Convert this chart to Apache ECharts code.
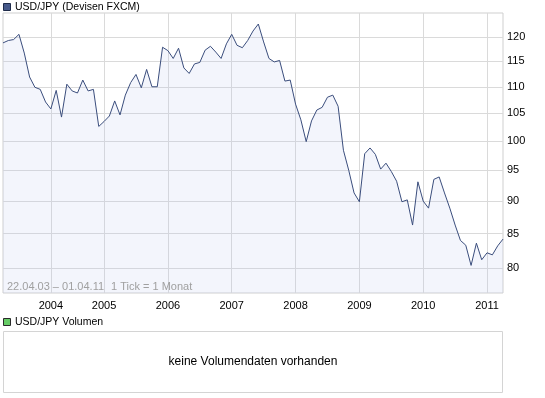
<!DOCTYPE html>
<html>
<head>
<meta charset="utf-8">
<script src="https://cdn.jsdelivr.net/npm/echarts@6/dist/echarts.min.js"></script>
<style>
  html, body { margin: 0; padding: 0; background: #fff; }
  #chart { width: 545px; height: 398px; }
</style>
</head>
<body>
<div id="chart"></div>
<script>
// monthly ticks, 22.04.03 - 01.04.11 (2004 only has 10 ticks in the source)
const months = [
  "2003-04", "2003-05", "2003-06", "2003-07", "2003-08", "2003-09", "2003-10", "2003-11", "2003-12",
  "2004-01", "2004-02", "2004-03", "2004-04", "2004-06", "2004-07", "2004-09", "2004-10", "2004-11", "2004-12",
  "2005-01", "2005-02", "2005-03", "2005-04", "2005-05", "2005-06", "2005-07", "2005-08", "2005-09", "2005-10", "2005-11", "2005-12",
  "2006-01", "2006-02", "2006-03", "2006-04", "2006-05", "2006-06", "2006-07", "2006-08", "2006-09", "2006-10", "2006-11", "2006-12",
  "2007-01", "2007-02", "2007-03", "2007-04", "2007-05", "2007-06", "2007-07", "2007-08", "2007-09", "2007-10", "2007-11", "2007-12",
  "2008-01", "2008-02", "2008-03", "2008-04", "2008-05", "2008-06", "2008-07", "2008-08", "2008-09", "2008-10", "2008-11", "2008-12",
  "2009-01", "2009-02", "2009-03", "2009-04", "2009-05", "2009-06", "2009-07", "2009-08", "2009-09", "2009-10", "2009-11", "2009-12",
  "2010-01", "2010-02", "2010-03", "2010-04", "2010-05", "2010-06", "2010-07", "2010-08", "2010-09", "2010-10", "2010-11", "2010-12",
  "2011-01", "2011-02", "2011-03", "2011-04"
];

const usdJpy = [
  118.8, 119.3, 119.5, 120.6, 116.7, 111.9, 109.9, 109.5, 107.1,
  105.8, 109.3, 104.3, 110.5, 109.2, 108.8, 111.3, 109.2, 109.5, 102.6,
  103.5, 104.5, 107.3, 104.7, 108.4, 110.8, 112.4, 109.8, 113.4, 110.0, 110.0, 117.9,
  117.2, 115.6, 117.7, 113.7, 112.6, 114.5, 114.8, 117.3, 118.1, 116.9, 115.6, 118.6,
  120.6, 118.3, 117.8, 119.3, 121.3, 122.8, 119.0, 115.6, 114.9, 115.2, 111.1, 111.3,
  106.7, 103.8, 99.9, 103.6, 105.6, 106.1, 108.0, 108.4, 106.3, 98.4, 95.0, 91.3,
  89.9, 97.8, 98.8, 97.7, 95.2, 96.2, 94.8, 93.2, 89.9, 90.2, 86.3, 93.1,
  90.0, 88.9, 93.5, 93.9, 91.3, 88.9, 86.3, 84.0, 83.3, 80.4, 83.6, 81.2,
  82.2, 81.9, 83.2, 84.2
];

const yTicks = [80, 85, 90, 95, 100, 105, 110, 115, 120];

const font = "Liberation Sans";
const isJan = (idx, value) => value.slice(5) === "01";

let myChart = echarts.init(document.getElementById("chart"));
let option = {
  animation: false,
  grid: {
    left: 3,
    top: 13,
    width: 500,
    height: 280,
    show: true,
    borderColor: "#cfcfcf",
    borderWidth: 1,
  },
  xAxis: {
    type: "category",
    data: months,
    boundaryGap: false,
    axisLine: { show: false },
    axisTick: { show: false },
    axisLabel: {
      interval: isJan,
      formatter: (v) => v.slice(0, 4),
      color: "#000",
      fontFamily: font,
      fontSize: 11,
      margin: 7,
    },
    splitLine: {
      show: true,
      interval: isJan,
      lineStyle: { color: "#dadada" },
    },
  },
  yAxis: {
    type: "log",
    position: "right",
    min: 76.6,
    max: 125.2,
    axisLine: { show: false },
    axisTick: { show: false, customValues: yTicks },
    axisLabel: {
      customValues: yTicks,
      color: "#000",
      fontFamily: font,
      fontSize: 11,
      margin: 4,
    },
    splitLine: {
      show: true,
      lineStyle: { color: "#dadada" },
    },
  },
  series: [
    {
      type: "line",
      data: usdJpy,
      symbol: "none",
      lineStyle: { color: "#3a4d7c", width: 1 },
      areaStyle: { color: "rgba(185,198,238,0.24)" },
      z: 3,
    },
  ],
  graphic: [
    // header legend
    { type: "rect", shape: { x: 3.5, y: 3.5, width: 7, height: 7 }, style: { fill: "#46598a", stroke: "#1e2b4a" } },
    { type: "text", x: 15, y: 7, style: { text: "USD/JPY (Devisen FXCM)", fill: "#000", font: "10.5px " + font, verticalAlign: "middle" } },
    // range note inside the plot
    { type: "text", x: 7, y: 287, z: 10, style: { text: "22.04.03 – 01.04.11", fill: "#a0a0a0", font: "11px " + font, verticalAlign: "middle" } },
    { type: "text", x: 111, y: 287, z: 10, style: { text: "1 Tick = 1 Monat", fill: "#a0a0a0", font: "11px " + font, verticalAlign: "middle" } },
    // volume panel
    { type: "rect", shape: { x: 3.5, y: 318.5, width: 7, height: 7 }, style: { fill: "#66cc66", stroke: "#2a2a2a" } },
    { type: "text", x: 15, y: 322, style: { text: "USD/JPY Volumen", fill: "#000", font: "10.5px " + font, verticalAlign: "middle" } },
    { type: "rect", shape: { x: 3.5, y: 331.5, width: 499, height: 61 }, style: { fill: "#fff", stroke: "#d4d4d4" } },
    { type: "text", x: 253, y: 362, style: { text: "keine Volumendaten vorhanden", fill: "#000", font: "12px " + font, align: "center", verticalAlign: "middle" } },
  ],
};
myChart.setOption(option);
</script>
</body>
</html>
